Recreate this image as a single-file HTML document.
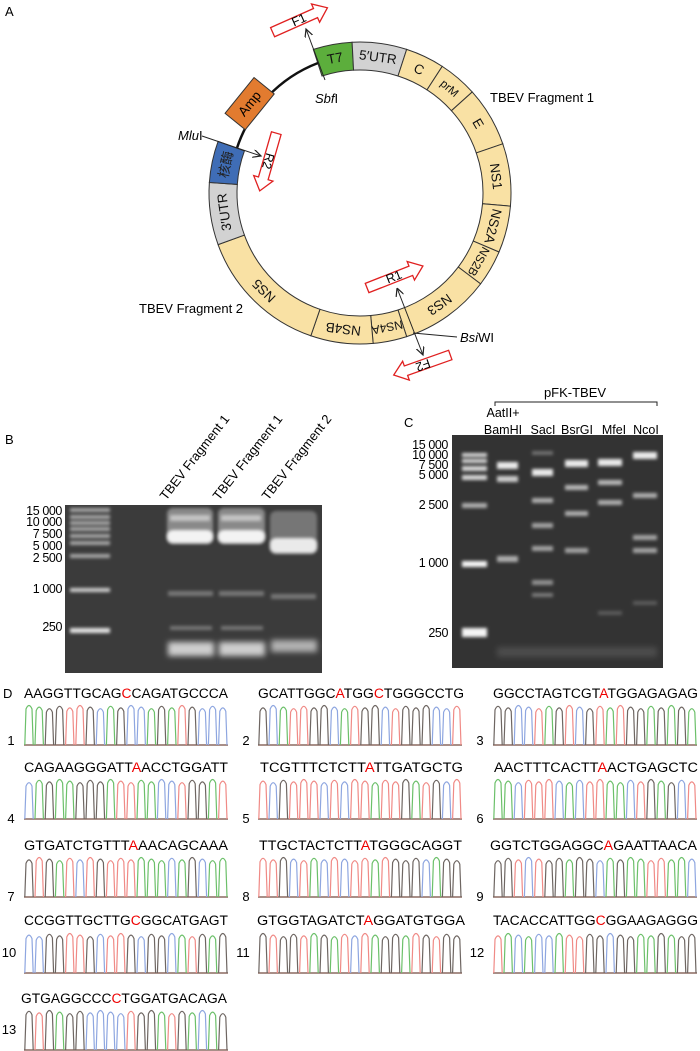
<!DOCTYPE html>
<html><head><meta charset="utf-8"><style>
html,body{margin:0;padding:0;background:#fff;}
svg{display:block;font-family:"Liberation Sans","Noto Sans CJK SC",sans-serif;}
</style></head><body>
<svg id="s" width="700" height="1051" viewBox="0 0 700 1051" xmlns="http://www.w3.org/2000/svg">
<defs>
<filter id="b1" x="-20%" y="-150%" width="140%" height="400%"><feGaussianBlur stdDeviation="1.7"/></filter>
<filter id="b3" x="-30%" y="-100%" width="160%" height="300%"><feGaussianBlur stdDeviation="3"/></filter>
<marker id="ah" markerWidth="10" markerHeight="10" refX="8" refY="4" orient="auto" markerUnits="userSpaceOnUse"><path d="M0,0 L8,4 L0,8" fill="none" stroke="#222" stroke-width="1.2"/></marker>
<marker id="ahs" markerWidth="10" markerHeight="10" refX="0" refY="4" orient="auto" markerUnits="userSpaceOnUse"><path d="M8,0 L0,4 L8,8" fill="none" stroke="#222" stroke-width="1.2"/></marker>
</defs>

<!-- Panel A -->
<text x="5" y="16" font-size="13">A</text>
<g id="ring"></g>
<path d="M 237,148 A 137 137 0 0 1 318,63" fill="none" stroke="#111" stroke-width="2.5"/>
<g transform="translate(360,193) rotate(309) translate(0,-142)">
<rect x="-23" y="-13" width="46" height="26" fill="#e27b2f" stroke="#333" stroke-width="1"/>
<text x="0" y="0" font-size="13.5" text-anchor="middle" dominant-baseline="central">Amp</text></g>
<g font-size="13.5" text-anchor="middle" dominant-baseline="central" fill="#111">
<text transform="translate(360,193) rotate(-10.5) translate(0,-137)">T7</text>
<text transform="translate(360,193) rotate(7.5) translate(0,-137)">5′UTR</text>
<text transform="translate(360,193) rotate(25.5) translate(0,-137)">C</text>
<text transform="translate(360,193) rotate(40.5) translate(0,-137)" font-size="11.5">prM</text>
<text transform="translate(360,193) rotate(59.5) translate(0,-137)">E</text>
<text transform="translate(360,193) rotate(83) translate(0,-137)">NS1</text>
<text transform="translate(360,193) rotate(104) translate(0,-137)">NS2A</text>
<text transform="translate(360,193) rotate(120) translate(0,-137)" font-size="12">NS2B</text>
<text transform="translate(360,193) rotate(144.5) translate(0,-137)">NS3</text>
<text transform="translate(360,193) rotate(168.5) translate(0,-137)" font-size="12">NS4A</text>
<text transform="translate(360,193) rotate(187) translate(0,-137)">NS4B</text>
<text transform="translate(360,193) rotate(224.5) translate(0,-137)">NS5</text>
<text transform="translate(360,193) rotate(262) translate(0,-137)">3′UTR</text>
<text transform="translate(360,193) rotate(282) translate(0,-137)" fill="#222">核酶</text>
</g>
<!-- primers -->
<g fill="#fff" stroke="#e02020" stroke-width="1.3">
<polygon transform="translate(300,20) rotate(-24)" points="-30,-5 17,-5 17,-10 30,0 17,10 17,5 -30,5"/>
<polygon transform="translate(268,162) rotate(106)" points="-30,-5 17,-5 17,-10 30,0 17,10 17,5 -30,5"/>
<polygon transform="translate(395,277) rotate(-21.5)" points="-30,-5 17,-5 17,-10 30,0 17,10 17,5 -30,5"/>
<polygon transform="translate(422,365) rotate(160.5)" points="-30,-5 17,-5 17,-10 30,0 17,10 17,5 -30,5"/>
</g>
<g font-size="12.5" text-anchor="middle" dominant-baseline="central">
<text transform="translate(299,20) rotate(-24)">F1</text>
<text transform="translate(268,161) rotate(106)">R2</text>
<text transform="translate(394,277) rotate(-21.5)">R1</text>
<text transform="translate(423,365) rotate(160.5)">F2</text>
</g>
<g stroke="#222" stroke-width="1" fill="none">
<line x1="325" y1="80" x2="306" y2="29" marker-end="url(#ah)"/>
<line x1="202" y1="136" x2="261" y2="156" marker-end="url(#ah)"/>
<line x1="397" y1="288" x2="423" y2="355" marker-start="url(#ahs)" marker-end="url(#ah)"/>
<line x1="413" y1="333" x2="457" y2="337"/>
</g>
<g font-size="13">
<text x="315" y="103"><tspan font-style="italic">Sbf</tspan>I</text>
<text x="178" y="140"><tspan font-style="italic">Mlu</tspan>I</text>
<text x="460" y="342"><tspan font-style="italic">Bsi</tspan>WI</text>
<text x="490" y="102">TBEV Fragment 1</text>
<text x="139" y="313">TBEV Fragment 2</text>
</g>

<!-- Panel B -->
<text x="5" y="444" font-size="13">B</text>
<g font-size="13">
<text transform="translate(166,501) rotate(-52)">TBEV Fragment 1</text>
<text transform="translate(219,501) rotate(-52)">TBEV Fragment 1</text>
<text transform="translate(268,501) rotate(-52)">TBEV Fragment 2</text>
</g>
<g font-size="12.5" text-anchor="end" letter-spacing="-0.4">
<text x="62" y="515">15 000</text><text x="62" y="526">10 000</text><text x="62" y="538">7 500</text>
<text x="62" y="550">5 000</text><text x="62" y="562">2 500</text><text x="62" y="593">1 000</text>
<text x="62" y="631">250</text>
</g>
<rect x="65" y="505" width="257" height="168" fill="#3b3b3b"/>
<g fill="#fff" filter="url(#b1)">
<g opacity="0.55"><rect x="70" y="508" width="40" height="4"/><rect x="70" y="515" width="40" height="4"/><rect x="70" y="521" width="40" height="4"/><rect x="70" y="527" width="40" height="4"/><rect x="70" y="534" width="40" height="4"/><rect x="70" y="541" width="40" height="4"/><rect x="70" y="554" width="40" height="4"/></g>
<rect x="70" y="588" width="40" height="4" opacity="0.75"/>
<rect x="70" y="628" width="40" height="5" opacity="0.85"/>
<g opacity="0.3"><rect x="168" y="591" width="45" height="5"/><rect x="219" y="591" width="45" height="5"/><rect x="271" y="594" width="45" height="5"/>
<rect x="170" y="626" width="42" height="4"/><rect x="221" y="626" width="42" height="4"/></g>
</g>
<g fill="#fff">
<rect x="167" y="508" width="46" height="36" rx="6" opacity="0.4" filter="url(#b1)"/>
<rect x="218" y="508" width="47" height="36" rx="6" opacity="0.4" filter="url(#b1)"/>
<rect x="270" y="511" width="47" height="43" rx="6" opacity="0.3" filter="url(#b1)"/>
<rect x="167" y="530" width="46" height="13" rx="6" opacity="0.9" filter="url(#b1)"/>
<rect x="218" y="530" width="47" height="13" rx="6" opacity="0.9" filter="url(#b1)"/>
<rect x="270" y="538" width="47" height="15" rx="6" opacity="0.85" filter="url(#b1)"/>
<rect x="170" y="515" width="40" height="6" opacity="0.5" filter="url(#b1)"/>
<rect x="221" y="515" width="40" height="6" opacity="0.5" filter="url(#b1)"/>
<g filter="url(#b3)"><rect x="168" y="642" width="46" height="14" opacity="0.75"/><rect x="219" y="642" width="46" height="14" opacity="0.75"/><rect x="271" y="640" width="46" height="12" opacity="0.6"/></g>
</g>

<!-- Panel C -->
<text x="404" y="427" font-size="13">C</text>
<text x="575" y="397" font-size="13" text-anchor="middle">pFK-TBEV</text>
<path d="M495,406 V402 H657 V406" fill="none" stroke="#222" stroke-width="1"/>
<g font-size="12.5" text-anchor="middle">
<text x="503" y="417">AatII+</text><text x="503" y="434">BamHI</text>
<text x="543" y="434">SacI</text><text x="577" y="434">BsrGI</text>
<text x="614" y="434">MfeI</text><text x="646" y="434">NcoI</text>
</g>
<g font-size="12.5" text-anchor="end" letter-spacing="-0.4">
<text x="448" y="449">15 000</text><text x="448" y="459">10 000</text><text x="448" y="469">7 500</text>
<text x="448" y="479">5 000</text><text x="448" y="509">2 500</text><text x="448" y="567">1 000</text>
<text x="448" y="637">250</text>
</g>
<rect x="452" y="435" width="211" height="233" fill="#333"/>
<g fill="#fff" filter="url(#b1)">
<g opacity="0.8"><rect x="462" y="453" width="25" height="4"/><rect x="462" y="459" width="25" height="4"/><rect x="462" y="466" width="25" height="5"/><rect x="462" y="475" width="25" height="5"/></g>
<rect x="462" y="503" width="25" height="5" opacity="0.6"/>
<rect x="462" y="561" width="25" height="6" opacity="0.95"/>
<rect x="462" y="628" width="25" height="9" opacity="0.95"/>
<rect x="497" y="462" width="21" height="7" opacity="0.9"/><rect x="497" y="476" width="21" height="6" opacity="0.75"/><rect x="497" y="556" width="21" height="6" opacity="0.6"/>
<rect x="532" y="451" width="21" height="4" opacity="0.3"/><rect x="532" y="469" width="21" height="7" opacity="0.9"/><rect x="532" y="498" width="21" height="5" opacity="0.6"/><rect x="532" y="523" width="21" height="5" opacity="0.55"/><rect x="532" y="546" width="21" height="5" opacity="0.55"/><rect x="532" y="580" width="21" height="5" opacity="0.45"/><rect x="532" y="593" width="21" height="4" opacity="0.35"/>
<rect x="565" y="460" width="23" height="7" opacity="0.9"/><rect x="565" y="485" width="23" height="5" opacity="0.65"/><rect x="565" y="511" width="23" height="5" opacity="0.6"/><rect x="565" y="548" width="23" height="5" opacity="0.55"/>
<rect x="598" y="459" width="24" height="7" opacity="0.9"/><rect x="598" y="480" width="24" height="5" opacity="0.65"/><rect x="598" y="500" width="24" height="5" opacity="0.6"/><rect x="598" y="611" width="24" height="4" opacity="0.2"/>
<rect x="633" y="452" width="24" height="7" opacity="0.9"/><rect x="633" y="493" width="24" height="5" opacity="0.6"/><rect x="633" y="535" width="24" height="5" opacity="0.55"/><rect x="633" y="548" width="24" height="5" opacity="0.55"/><rect x="633" y="601" width="24" height="4" opacity="0.2"/>
</g>
<g fill="#fff" opacity="0.12" filter="url(#b3)"><rect x="497" y="647" width="160" height="10"/></g>

<!-- Panel D -->
<text x="3" y="698" font-size="13">D</text>
<g font-size="13.5">
<text x="24" y="698" textLength="204" lengthAdjust="spacingAndGlyphs">AAGGTTGCAG<tspan fill="#e00">C</tspan>CAGATGCCCA</text>
<text x="258" y="698" textLength="206" lengthAdjust="spacingAndGlyphs">GCATTGGC<tspan fill="#e00">A</tspan>TGG<tspan fill="#e00">C</tspan>TGGGCCTG</text>
<text x="493" y="698" textLength="205" lengthAdjust="spacingAndGlyphs">GGCCTAGTCGT<tspan fill="#e00">A</tspan>TGGAGAGAG</text>
<text x="24" y="772" textLength="204" lengthAdjust="spacingAndGlyphs">CAGAAGGGATT<tspan fill="#e00">A</tspan>ACCTGGATT</text>
<text x="260" y="772" textLength="203" lengthAdjust="spacingAndGlyphs">TCGTTTCTCTT<tspan fill="#e00">A</tspan>TTGATGCTG</text>
<text x="494" y="772" textLength="204" lengthAdjust="spacingAndGlyphs">AACTTTCACTT<tspan fill="#e00">A</tspan>ACTGAGCTC</text>
<text x="24" y="850" textLength="204" lengthAdjust="spacingAndGlyphs">GTGATCTGTTT<tspan fill="#e00">A</tspan>AACAGCAAA</text>
<text x="259" y="850" textLength="203" lengthAdjust="spacingAndGlyphs">TTGCTACTCTT<tspan fill="#e00">A</tspan>TGGGCAGGT</text>
<text x="490" y="850" textLength="207" lengthAdjust="spacingAndGlyphs">GGTCTGGAGGC<tspan fill="#e00">A</tspan>GAATTAACA</text>
<text x="24" y="925" textLength="204" lengthAdjust="spacingAndGlyphs">CCGGTTGCTTG<tspan fill="#e00">C</tspan>GGCATGAGT</text>
<text x="257" y="925" textLength="208" lengthAdjust="spacingAndGlyphs">GTGGTAGATCT<tspan fill="#e00">A</tspan>GGATGTGGA</text>
<text x="493" y="925" textLength="205" lengthAdjust="spacingAndGlyphs">TACACCATTGG<tspan fill="#e00">C</tspan>GGAAGAGGG</text>
<text x="21" y="1003" textLength="206" lengthAdjust="spacingAndGlyphs">GTGAGGCCC<tspan fill="#e00">C</tspan>TGGATGACAGA</text>
</g>
<g font-size="13" text-anchor="middle">
<text x="11" y="745">1</text><text x="246" y="745">2</text><text x="480" y="745">3</text>
<text x="11" y="823">4</text><text x="246" y="823">5</text><text x="480" y="823">6</text>
<text x="11" y="901">7</text><text x="246" y="901">8</text><text x="480" y="901">9</text>
<text x="9" y="957">10</text><text x="243" y="957">11</text><text x="477" y="957">12</text>
<text x="9" y="1034">13</text>
</g>
<g id="chroms"></g>
</svg>
<script>
var NS="http://www.w3.org/2000/svg";
function el(t,a,p){var e=document.createElementNS(NS,t);for(var k in a)e.setAttribute(k,a[k]);p.appendChild(e);return e;}
var ring=document.getElementById("ring");
function pt(a,r){var t=a*Math.PI/180;return [360+r*Math.sin(t),193-r*Math.cos(t)];}
function sector(a0,a1,c){var r0=123,r1=151;var p1=pt(a0,r1),p2=pt(a1,r1),p3=pt(a1,r0),p4=pt(a0,r0);var lg=(a1-a0)>180?1:0;
el("path",{d:"M"+p1+" A"+r1+" "+r1+" 0 "+lg+" 1 "+p2+" L"+p3+" A"+r0+" "+r0+" 0 "+lg+" 0 "+p4+"Z",fill:c,stroke:"#333","stroke-width":"1"},ring);}
var Y="#f9e1a4";
[[-18,-3,"#5cae3c"],[-3,18,"#d2d2d2"],[18,33,Y],[33,48,Y],[48,71,Y],[71,95,Y],[95,113,Y],[113,127,Y],[127,162,Y],[162,175,Y],[175,199,Y],[199,250,Y],[250,274,"#d2d2d2"],[274,290,"#3f6db6"]].forEach(function(s){sector(s[0],s[1],s[2]);});
var seqs=["AAGGTTGCAGCCAGATGCCC","GCATTGGCATGGCTGGGCCT","GGCCTAGTCGTATGGAGAGA","CAGAAGGGATTAACCTGGAT","TCGTTTCTCTTATTGATGCT","AACTTTCACTTAACTGAGCT","GTGATCTGTTTAAACAGCAA","TTGCTACTCTTATGGGCAGG","GGTCTGGAGGCAGAATTAAC","CCGGTTGCTTGCGGCATGAG","GTGGTAGATCTAGGATGTGG","TACACCATTGGCGGAAGAGG","GTGAGGCCCCTGGATGACAG"];
var xs=[24,258,493],tops=[705,779,857,933,1010];
var col={A:"#6cc06a",C:"#8ea6e0",G:"#6e6662",T:"#f08a86"};
var g=document.getElementById("chroms");
seqs.forEach(function(s,i){var x0=xs[i%3],top=tops[Math.floor(i/3)],base=top+40;
el("line",{x1:x0,y1:base,x2:x0+204,y2:base,stroke:"#8c6a60","stroke-width":"1.6"},g);
for(var j=0;j<20;j++){var cx=x0+5+j*10.2;var h=top+((j*7+i*3)%5)*0.8;var c=col[s[j]];
el("path",{d:"M"+(cx-4.2)+","+base+" L"+(cx-3)+","+(h+4)+" Q"+cx+","+(h-3)+" "+(cx+3)+","+(h+4)+" L"+(cx+4.2)+","+base,fill:"none",stroke:c,"stroke-width":"1.2"},g);}
});
</script>
</body></html>
